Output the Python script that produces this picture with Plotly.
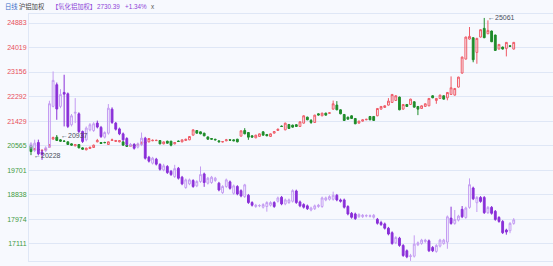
import plotly.graph_objects as go

# ---------------- data ----------------
idx = list(range(132))

main_open = [20556,20420,20440,20385,20410,20509,20791,20862,20767,20725,
             20697,20626,20556,20603,20485,20415,20462,20497,20697,20673,
             20673,20603,20745,20709,20697,20697,20580,20540,20590,20590,
             20620,20650,20696,20735,20740,20743,20626,20720,20720,20626,
             20725,20696,20743,20767,20932,21096,21049,21002,20870,20814,
             20790,20732,20690,20732,20770,20767,20791,20897,21097,21026,
             20909,20838,20885,21050,20956,20885,21003,21097,21250,21120,
             21308,21285,21300,21238,21355,21567,21450,21379,21684,21614,
             21708,21700,21849,21990,21825,21661,21567,21614,21520,21355,
             21426,21473,21590,21590,21614,21849,21908,21990,22084,22154,
             22272,21849,22013,22013,22108,21943,21872,21943,21966,22319,
             22154,22225,22319,22248,22366,22343,22625,23118,23612,24317,
             24364,23847,24388,24694,24505,24600,24458,23965,24035,23988,
             24082,23965]
main_high = [20600,20480,20470,20420,20470,20620,20880,20937,20790,20750,
             20710,20640,20620,20615,20500,20490,20520,20600,20800,20690,
             20700,20710,20810,20760,20750,20710,20600,20600,20610,20640,
             20700,20720,20830,20780,20770,20760,20710,20735,20730,20690,
             20740,20780,20805,20900,21135,21110,21060,21015,20885,20830,
             20800,20745,20720,20800,20785,20780,20800,21100,21179,21040,
             20925,20945,20990,21065,20970,20990,21075,21160,21270,21370,
             21320,21300,21320,21415,21630,21580,21500,21650,21700,21720,
             21720,21735,22150,22131,21840,21675,21580,21630,21535,21440,
             21490,21505,21605,21600,21885,21955,21980,22237,22380,22335,
             22290,22025,22025,22215,22120,21955,21980,22050,22240,22335,
             22240,22355,22330,22450,23001,22590,22990,23700,24400,24741,
             24380,24360,24660,25061,24976,24615,24470,24140,24050,24210,
             24095,24215]
main_low = [20228,20390,20380,20350,20400,20490,20780,20730,20700,20700,
            20590,20560,20540,20470,20420,20400,20450,20480,20680,20620,
            20650,20590,20730,20700,20680,20560,20520,20530,20540,20570,
            20600,20630,20680,20720,20725,20610,20610,20635,20540,20610,
            20700,20680,20730,20755,20920,20990,20965,20895,20770,20780,
            20750,20685,20680,20720,20740,20720,20680,20880,20965,20767,
            20850,20825,20870,20920,20895,20870,20990,21085,21220,21105,
            21150,21200,21225,21225,21340,21460,21330,21365,21625,21600,
            21625,21690,21835,21810,21670,21435,21480,21505,21320,21340,
            21410,21460,21460,21435,21600,21835,21895,21975,22070,22140,
            21810,21835,21930,22000,21905,21637,21860,21930,21950,22235,
            22037,22210,22190,22160,22350,22330,22610,23100,23600,24300,
            23500,23447,24370,24350,24490,24210,23900,23950,23950,23706,
            24040,23950]
main_close = [20356,20450,20410,20400,20450,20591,20850,20745,20720,20715,
              20603,20580,20603,20485,20438,20474,20509,20580,20745,20638,
              20668,20697,20767,20745,20740,20580,20540,20580,20560,20603,
              20680,20690,20814,20750,20750,20626,20696,20649,20579,20673,
              20710,20767,20790,20885,21120,21002,20979,20908,20790,20791,
              20767,20697,20705,20767,20755,20735,20697,21085,20979,20862,
              20862,20932,20979,20932,20909,20979,21061,21144,21238,21355,
              21167,21214,21238,21402,21614,21473,21380,21637,21640,21708,
              21637,21720,22037,21825,21684,21449,21496,21520,21332,21426,
              21473,21490,21473,21450,21872,21943,21967,22131,22366,22319,
              21825,22013,21943,22202,21919,21849,21966,22037,22225,22248,
              22225,22343,22201,22436,22601,22577,22977,23682,24388,24411,
              23588,24341,24647,24364,24623,24223,23917,24129,23965,24200,
              24059,24200]

alu_open = [3174,3149,3198,3140,3149,3170,3416,3547,3416,3500,
            3492,3305,3375,3371,3264,3214,3274,3270,3315,3289,
            3230,3254,3399,3315,3280,3250,3222,3180,3186,3170,
            3184,3224,3109,3073,3097,3065,3032,3053,3024,2992,
            3042,2988,2926,2948,2968,2936,2962,3008,2952,2956,
            2968,2952,2895,2932,2960,2891,2932,2907,2871,2879,
            2835,2811,2815,2807,2811,2819,2835,2843,2867,2827,
            2835,2843,2905,2839,2823,2815,2790,2798,2811,2811,
            2851,2855,2855,2879,2851,2851,2811,2770,2766,2750,
            2750,2754,2752,2746,2734,2714,2706,2680,2653,2592,
            2620,2576,2544,2509,2511,2580,2588,2600,2604,2564,
            2540,2572,2588,2596,2741,2709,2729,2794,2745,2806,
            2923,2834,2866,2866,2774,2806,2782,2745,2721,2669,
            2665,2709]
alu_high = [3200,3215,3215,3153,3175,3450,3627,3560,3520,3607,
            3500,3370,3466,3380,3270,3295,3315,3320,3330,3298,
            3265,3430,3410,3322,3288,3258,3230,3195,3194,3198,
            3258,3232,3117,3111,3105,3073,3069,3061,3032,3063,
            3050,2996,2980,2980,2976,2970,3053,3016,2990,2996,
            2990,2960,2940,2980,2968,2944,2940,2915,2948,2887,
            2843,2827,2825,2831,2843,2843,2843,2871,2875,2859,
            2859,2915,2913,2847,2831,2823,2810,2823,2827,2871,
            2871,2879,2901,2887,2859,2859,2819,2778,2774,2770,
            2766,2764,2763,2766,2742,2725,2714,2688,2661,2632,
            2628,2584,2552,2525,2637,2600,2616,2616,2612,2572,
            2584,2616,2616,2757,2810,2790,2761,2814,2810,2981,
            2931,2874,2874,2874,2814,2814,2790,2753,2729,2677,
            2717,2741]
alu_low = [3160,3140,3120,3093,3140,3165,3410,3335,3405,3295,
           3285,3295,3315,3255,3195,3205,3265,3262,3283,3225,
           3222,3245,3310,3270,3242,3206,3178,3172,3155,3162,
           3176,3095,3077,3065,3059,3028,3024,3008,2996,2984,
           2974,2940,2918,2940,2924,2928,2954,2930,2944,2948,
           2960,2903,2887,2924,2913,2883,2879,2867,2863,2827,
           2811,2803,2807,2799,2780,2811,2803,2835,2819,2819,
           2827,2835,2827,2807,2799,2790,2782,2790,2803,2803,
           2843,2847,2847,2843,2835,2799,2758,2738,2730,2742,
           2742,2746,2745,2738,2702,2694,2672,2637,2580,2584,
           2568,2507,2499,2483,2503,2572,2580,2592,2536,2536,
           2532,2564,2580,2556,2701,2701,2721,2741,2737,2798,
           2850,2778,2834,2766,2766,2762,2725,2713,2645,2641,
           2650,2701]
alu_close = [3190,3194,3129,3125,3166,3432,3573,3400,3488,3490,
             3295,3359,3380,3264,3204,3285,3305,3311,3291,3234,
             3258,3405,3319,3278,3250,3214,3186,3186,3163,3190,
             3224,3103,3085,3103,3067,3036,3057,3016,3004,3040,
             2982,2948,2972,2972,2932,2962,3004,2956,2982,2988,
             2982,2911,2932,2972,2921,2936,2887,2875,2942,2835,
             2819,2819,2817,2823,2835,2835,2811,2863,2827,2851,
             2851,2907,2835,2815,2807,2798,2802,2815,2819,2863,
             2863,2871,2879,2851,2843,2807,2766,2746,2738,2762,
             2758,2756,2755,2758,2710,2702,2680,2645,2588,2624,
             2576,2515,2507,2513,2584,2592,2608,2608,2544,2544,
             2576,2608,2608,2749,2709,2733,2753,2749,2802,2943,
             2858,2866,2842,2774,2806,2770,2733,2721,2653,2657,
             2709,2730.39]

tick_vals = [24883, 24019, 23156, 22292, 21429, 20565, 19701, 18838, 17974, 17111]
tick_labels = ["24883", "24019", "23156", "22292", "21429", "20565", "19701", "18838", "17974", "17111"]
ref_price = 21000

# ---------------- figure ----------------
BG = "#f7f9fe"
GRID = "#dfe7f6"
FONT = "Liberation Sans, Noto Sans CJK SC, sans-serif"

fig = go.Figure()
fig.add_trace(go.Candlestick(
    x=idx, open=main_open, high=main_high, low=main_low, close=main_close,
    increasing=dict(line=dict(color="#ef5a66", width=1), fillcolor="rgba(0,0,0,0)"),
    decreasing=dict(line=dict(color="#1e8c2a", width=1), fillcolor="#1e8c2a"),
    whiskerwidth=0, showlegend=False, yaxis="y", hoverinfo="skip"))
fig.add_trace(go.Candlestick(
    x=idx, open=alu_open, high=alu_high, low=alu_low, close=alu_close,
    increasing=dict(line=dict(color="#c49cf2", width=1), fillcolor="rgba(0,0,0,0)"),
    decreasing=dict(line=dict(color="#8a2fd8", width=1), fillcolor="#8a2fd8"),
    whiskerwidth=0, showlegend=False, yaxis="y2", hoverinfo="skip"))

tick_text = []
for v, t in zip(tick_vals, tick_labels):
    col = "#e8505c" if v > ref_price else "#3f9a3f"
    tick_text.append(f"<span style='color:{col}'>{t}</span>")

fig.update_layout(
    width=553, height=266,
    margin=dict(l=29, r=0, t=14, b=5),
    paper_bgcolor=BG, plot_bgcolor=BG,
    font=dict(family=FONT, size=7),
    xaxis=dict(range=[-0.54, 141.66], showgrid=False, showticklabels=False,
               rangeslider=dict(visible=False), showline=True, linecolor=GRID,
               linewidth=1, mirror=True, zeroline=False, ticks=""),
    yaxis=dict(range=[16499, 25200], tickvals=tick_vals, ticktext=tick_text,
               showgrid=True, gridcolor=GRID, gridwidth=1, showline=True,
               linecolor=GRID, zeroline=False, ticks="", tickfont=dict(size=7)),
    yaxis2=dict(range=[2482, 3974], overlaying="y", visible=False),
)

def px_x(p):
    return (p - 29) / 524.0

def px_y(p):
    return (261 - p) / 247.0

header = [
    ("日线", 3, "#3a6cc8"),
    ("沪铝加权", 17, "#444444"),
    ("【氧化铝加权】", 50, "#8e44d8"),
    ("2730.39", 95, "#8e44d8"),
    ("+1.34%", 123, "#8e44d8"),
    ("x", 149, "#555555"),
]
for txt, xp, col in header:
    fig.add_annotation(text=txt, xref="paper", yref="paper", x=px_x(xp), y=px_y(6.5),
                       xanchor="left", yanchor="middle", showarrow=False,
                       font=dict(size=6.3, color=col, family=FONT))

marks = [("←20228", 0.35, 20228), ("←20937", 7.6, 20937), ("←25061", 123.4, 25061)]
for txt, xv, yv in marks:
    fig.add_annotation(text=txt, xref="x", yref="y", x=xv, y=yv, xanchor="left",
                       yanchor="middle", showarrow=False,
                       font=dict(size=7, color="#4a4f5c", family=FONT))

fig.write_html("out.html")
